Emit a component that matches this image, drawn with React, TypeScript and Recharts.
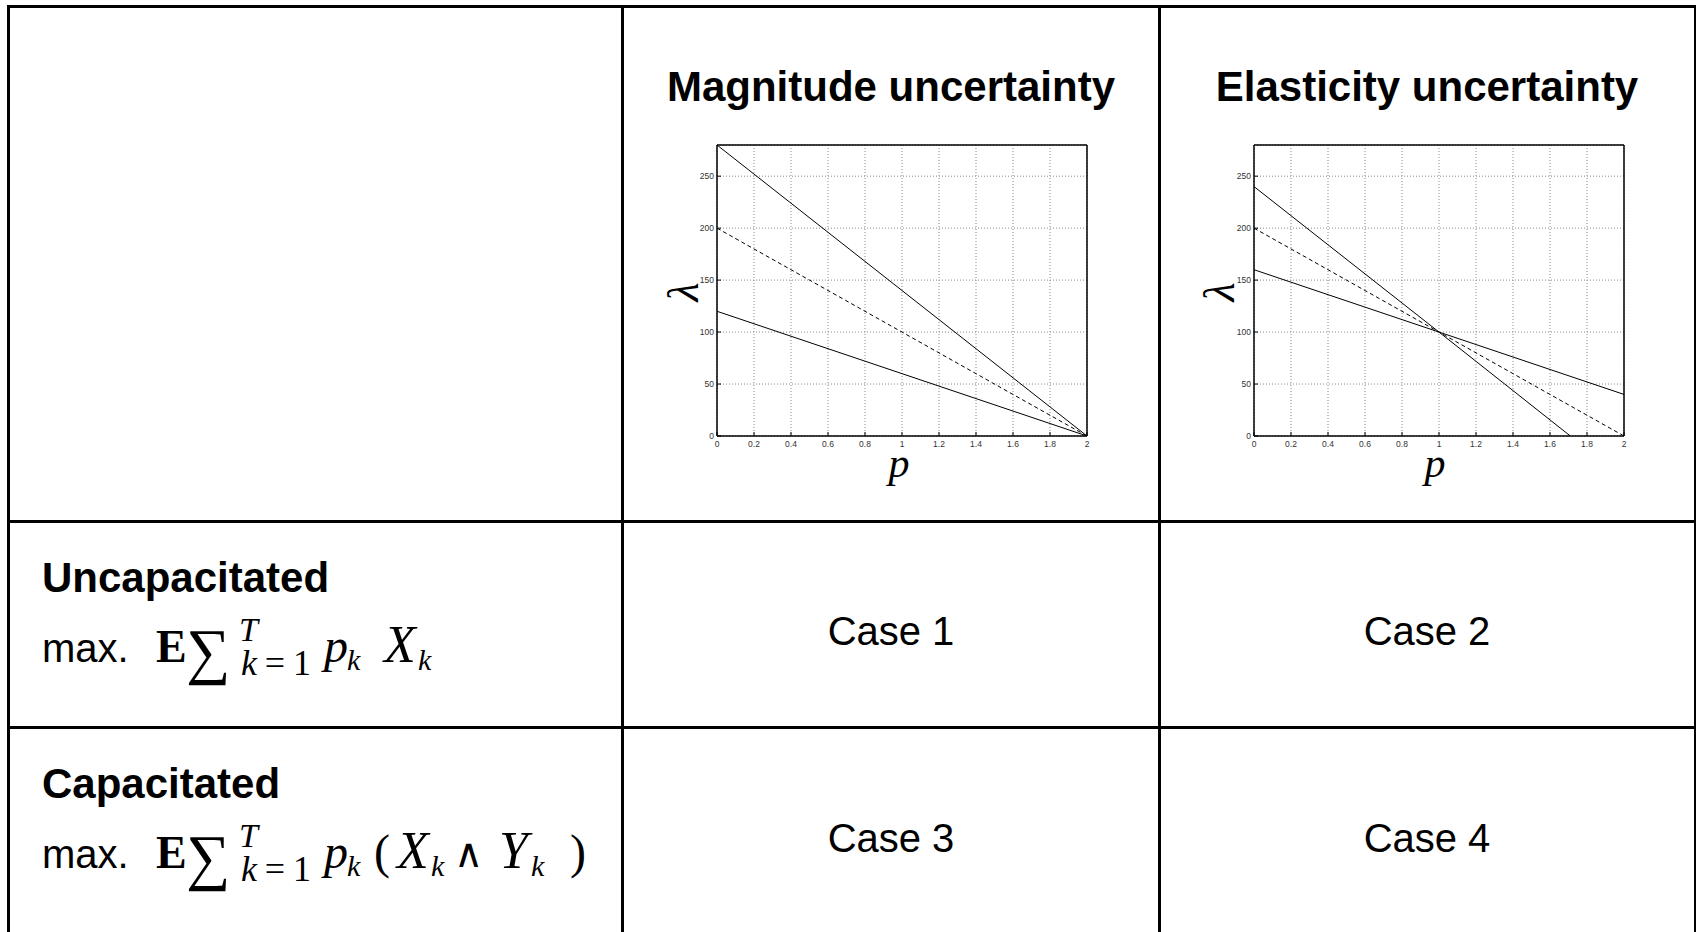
import React from "react";
import { LineChart, Line, XAxis, YAxis, CartesianGrid } from "recharts";

// axis ticks
const pTicks = [0, 0.2, 0.4, 0.6, 0.8, 1, 1.2, 1.4, 1.6, 1.8, 2];
const lambdaTicks = [0, 50, 100, 150, 200, 250];

// magnitude uncertainty: all three demand curves hit zero at p = 2
const magnitudeP = [0, 2];
const magnitudeHigh = [280, 0];
const magnitudeNominal = [200, 0];
const magnitudeLow = [120, 0];

// elasticity uncertainty: curves pivot around (1, 100)
const elasticitySteepP = [0, 1, 1.71];
const elasticitySteep = [240, 100, 0];
const elasticityP = [0, 2];
const elasticityNominal = [200, 0];
const elasticityFlat = [160, 40];

const cellTitles = ["Magnitude uncertainty", "Elasticity uncertainty"];
const caseLabels = ["Case 1", "Case 2", "Case 3", "Case 4"];
const rowLabels = ["Uncapacitated", "Capacitated"];

const toPoints = (ps: number[], vs: number[]) => ps.map((p, i) => ({ p, v: vs[i] }));

const magnitudeSeries = [
  { name: "high", data: toPoints(magnitudeP, magnitudeHigh), dashed: false },
  { name: "nominal", data: toPoints(magnitudeP, magnitudeNominal), dashed: true },
  { name: "low", data: toPoints(magnitudeP, magnitudeLow), dashed: false },
];

const elasticitySeries = [
  { name: "steep", data: toPoints(elasticitySteepP, elasticitySteep), dashed: false },
  { name: "nominal", data: toPoints(elasticityP, elasticityNominal), dashed: true },
  { name: "flat", data: toPoints(elasticityP, elasticityFlat), dashed: false },
];

const SANS = "'Liberation Sans', Arial, sans-serif";
const SERIF = "'Liberation Serif', 'Times New Roman', serif";
const tickStyle = { fontSize: 8.5, fill: "#333", fontFamily: SANS };
const axisStroke = { stroke: "#000", strokeWidth: 1.5 };

type Series = { name: string; data: { p: number; v: number }[]; dashed: boolean };

function DemandChart({ left, series }: { left: number; series: Series[] }) {
  return (
    <div style={{ position: "absolute", left, top: 134 }}>
      <LineChart width={411} height={322} margin={{ top: 10, right: 10, bottom: 0, left: 0 }}>
        <CartesianGrid stroke="#8a8a8a" strokeDasharray="1 2" />
        <XAxis
          dataKey="p"
          type="number"
          domain={[0, 2]}
          ticks={pTicks}
          allowDataOverflow
          height={20}
          tickSize={-4}
          tickMargin={9}
          axisLine={axisStroke}
          tickLine={{ stroke: "#000" }}
          tick={tickStyle}
          interval={0}
        />
        <XAxis
          xAxisId="top"
          orientation="top"
          type="number"
          domain={[0, 2]}
          ticks={pTicks}
          height={1}
          tickSize={-4}
          axisLine={axisStroke}
          tickLine={{ stroke: "#000" }}
          tick={false}
        />
        <YAxis
          type="number"
          domain={[0, 280]}
          ticks={lambdaTicks}
          allowDataOverflow
          width={30}
          tickSize={-4}
          tickMargin={7}
          axisLine={axisStroke}
          tickLine={{ stroke: "#000" }}
          tick={tickStyle}
          interval={0}
        />
        <YAxis
          yAxisId="right"
          orientation="right"
          type="number"
          domain={[0, 280]}
          ticks={lambdaTicks}
          width={1}
          tickSize={-4}
          axisLine={axisStroke}
          tickLine={{ stroke: "#000" }}
          tick={false}
        />
        {series.map((s) => (
          <Line
            key={s.name}
            data={s.data}
            dataKey="v"
            type="linear"
            stroke="#000"
            strokeWidth={1}
            strokeDasharray={s.dashed ? "4 3" : undefined}
            dot={false}
            activeDot={false}
            isAnimationActive={false}
          />
        ))}
      </LineChart>
    </div>
  );
}

const mathIt = { fontFamily: SERIF, fontStyle: "italic" as const };

function Formula({ y, capacitated }: { y: number; capacitated: boolean }) {
  const m = 48;
  const s = 34;
  return (
    <g>
      <text x={42} y={y} fontFamily={SANS} fontSize={40}>max.</text>
      <text x={156} y={y} fontFamily={SERIF} fontWeight="bold" fontSize={46}>E</text>
      <text x={186} y={y + 10} fontFamily={SERIF} fontSize={62}>∑</text>
      <text x={239} y={y - 21} {...mathIt} fontSize={s}>T</text>
      <text x={241} y={y + 13} fontFamily={SERIF} fontSize={36} textLength={70} lengthAdjust="spacing">
        <tspan fontStyle="italic">k</tspan>=1
      </text>
      <text x={324} y={y} {...mathIt} fontSize={m}>p</text>
      <text x={347} y={y + 8} {...mathIt} fontSize={30}>k</text>
      {capacitated ? (
        <>
          <text x={374} y={y} fontFamily={SERIF} fontSize={m}>(</text>
          <text x={397} y={y} {...mathIt} fontSize={52}>X</text>
          <text x={431} y={y + 8} {...mathIt} fontSize={30}>k</text>
          <text x={454} y={y - 1} fontFamily="'DejaVu Sans', sans-serif" fontSize={40}>∧</text>
          <text x={499} y={y} {...mathIt} fontSize={52}>Y</text>
          <text x={531} y={y + 8} {...mathIt} fontSize={30}>k</text>
          <text x={570} y={y} fontFamily={SERIF} fontSize={m}>)</text>
        </>
      ) : (
        <>
          <text x={384} y={y} {...mathIt} fontSize={52}>X</text>
          <text x={418} y={y + 8} {...mathIt} fontSize={30}>k</text>
        </>
      )}
    </g>
  );
}

const line = (l: number, t: number, w: number, h: number) => (
  <div key={`${l}-${t}`} style={{ position: "absolute", left: l, top: t, width: w, height: h, background: "#000" }} />
);

export default function App() {
  const chartCenters = [891, 1427];
  return (
    <div
      style={{
        position: "absolute",
        left: 0,
        top: 0,
        width: 1696,
        height: 932,
        background: "#fff",
        overflow: "hidden",
      }}
    >
      {line(7, 5, 1700, 3)}
      {line(7, 5, 3, 930)}
      {line(621, 5, 3, 930)}
      {line(1158, 5, 3, 930)}
      {line(1694, 5, 3, 930)}
      {line(7, 520, 1700, 3)}
      {line(7, 726, 1700, 3)}

      <DemandChart left={687} series={magnitudeSeries} />
      <DemandChart left={1224} series={elasticitySeries} />

      <svg width={1696} height={932} style={{ position: "absolute", left: 0, top: 0, pointerEvents: "none" }}>
        {cellTitles.map((t, i) => (
          <text key={t} x={chartCenters[i]} y={101} textAnchor="middle" fontFamily={SANS} fontWeight="bold" fontSize={42}>
            {t}
          </text>
        ))}
        {chartCenters.map((cx, i) => (
          <g key={`axes-${i}`}>
            <text
              x={cx - 208}
              y={292}
              textAnchor="middle"
              dominantBaseline="central"
              {...mathIt}
              fontSize={44}
              transform={`rotate(-90 ${cx - 208} 292)`}
            >
              λ
            </text>
            <text x={cx + 8} y={477} textAnchor="middle" {...mathIt} fontSize={42}>
              p
            </text>
          </g>
        ))}
        {caseLabels.map((c, i) => (
          <text
            key={c}
            x={chartCenters[i % 2]}
            y={i < 2 ? 645 : 852}
            textAnchor="middle"
            fontFamily={SANS}
            fontSize={40}
          >
            {c}
          </text>
        ))}
        {rowLabels.map((r, i) => (
          <text key={r} x={42} y={i === 0 ? 592 : 798} fontFamily={SANS} fontWeight="bold" fontSize={42}>
            {r}
          </text>
        ))}
        <Formula y={662} capacitated={false} />
        <Formula y={868} capacitated={true} />
      </svg>
    </div>
  );
}
